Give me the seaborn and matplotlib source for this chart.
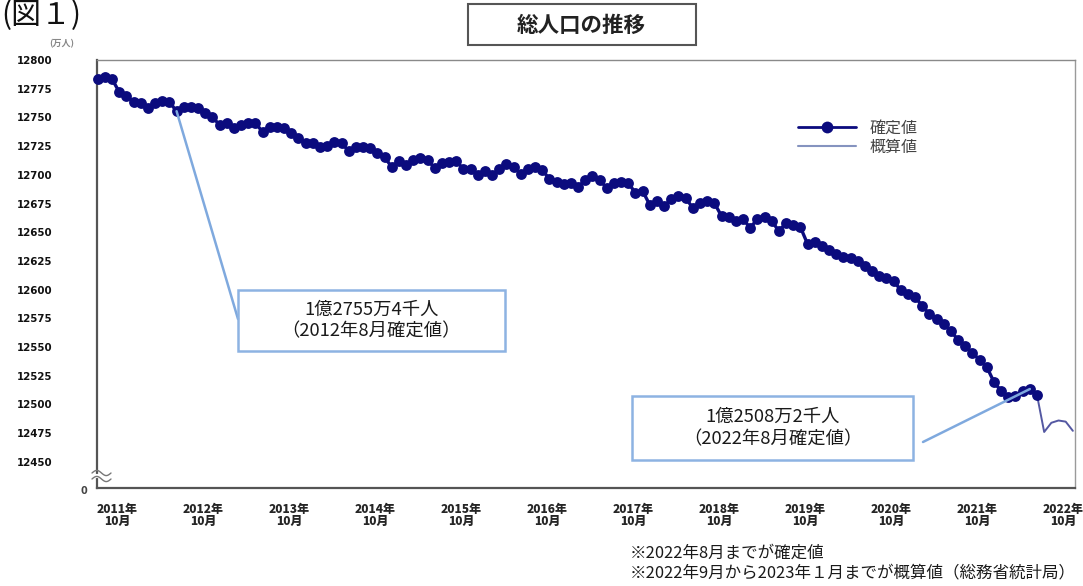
import matplotlib
matplotlib.use("Agg")
import matplotlib.pyplot as plt
from matplotlib.patches import Rectangle
from matplotlib.lines import Line2D
from matplotlib.transforms import ScaledTranslation
import numpy as np
import pandas as pd
import seaborn as sns

# Total population of Japan (unit: 10,000 persons), monthly, Sep 2011 - Aug 2022 (confirmed)
confirmed = [
    12783.4, 12785.2, 12783.4, 12772.1, 12768.6, 12763.4, 12762.5, 12758.2, 12762.5, 12764.3,
    12763.4, 12755.4, 12759.1, 12759.1, 12758.2, 12753.8, 12750.3, 12743.4, 12745.1, 12740.8,
    12743.4, 12745.1, 12745.1, 12737.3, 12741.6, 12741.6, 12740.8, 12736.4, 12732.1, 12727.7,
    12727.7, 12724.2, 12725.1, 12728.6, 12727.7, 12720.7, 12724.2, 12724.2, 12723.3, 12719.0,
    12715.5, 12706.8, 12712.0, 12708.5, 12712.9, 12714.6, 12712.9, 12705.9, 12710.3, 12711.1,
    12712.0, 12705.0, 12705.0, 12699.8, 12703.3, 12699.8, 12705.0, 12709.4, 12706.8, 12700.7,
    12705.0, 12706.8, 12704.2, 12696.3, 12693.7, 12692.0, 12692.9, 12689.4, 12695.5, 12699.0,
    12695.5, 12688.5, 12692.9, 12693.7, 12692.9, 12684.1, 12685.9, 12673.7, 12677.2, 12672.8,
    12678.9, 12681.5, 12679.8, 12671.1, 12675.4, 12677.2, 12675.4, 12664.1, 12663.2, 12659.8,
    12661.5, 12653.7, 12661.5, 12663.2, 12659.8, 12651.0, 12658.0, 12656.3, 12654.5, 12639.7,
    12641.5, 12638.0, 12634.5, 12631.0, 12628.4, 12627.5, 12624.9, 12620.6, 12616.2, 12611.8,
    12610.1, 12607.5, 12599.6, 12596.5, 12593.6, 12585.7, 12578.7, 12574.4, 12570.0, 12563.9,
    12556.1, 12550.9, 12544.8, 12538.7, 12532.6, 12519.5, 12511.7, 12506.4, 12507.3, 12511.7,
    12513.4, 12508.2,
]
# Provisional estimates, Sep 2022 - Jan 2023
provisional = [12476, 12484, 12486, 12485, 12477]

first_month = "2011-09"
tick_years = list(range(2011, 2023))
tick_month = 10
y_ticks = list(range(12450, 12801, 25))
y_limits = (12427.2, 12800)

callout_months = ["2012-08", "2022-08"]
callout_texts = ["1億2755万4千人\n（2012年8月確定値）", "1億2508万2千人\n（2022年8月確定値）"]

title = "総人口の推移"
figure_label = "(図１)"
unit_label = "(万人)"
series_names = ["確定値", "概算値"]
notes = ["※2022年8月までが確定値", "※2022年9月から2023年１月までが概算値（総務省統計局）"]

# ---------------------------------------------------------------------------
months = pd.period_range(first_month, periods=len(confirmed) + len(provisional), freq="M")
idx = np.arange(len(months))
n_conf = len(confirmed)

conf_df = pd.DataFrame({"m": idx[:n_conf], "pop": confirmed})
prov_df = pd.DataFrame({"m": idx[n_conf - 1:], "pop": [confirmed[-1]] + provisional})

sns.set_style("white")
plt.rcParams["font.family"] = ["Noto Sans CJK JP", "DejaVu Sans"]

W, H = 1083, 586
fig = plt.figure(figsize=(W / 100, H / 100), dpi=100)


def fp(x, y):
    """figure pixel (from top-left) -> figure fraction"""
    return x / W, 1 - y / H


ax_l, ax_r, ax_t, ax_b = 97, 1075, 60, 488
ax = fig.add_axes([ax_l / W, 1 - ax_b / H, (ax_r - ax_l) / W, (ax_b - ax_t) / H])

navy = "#0b0b7e"
prov_color = "#5458a2"

sns.lineplot(data=prov_df, x="m", y="pop", ax=ax, color=prov_color, linewidth=1.4,
             legend=False, clip_on=False, zorder=3)
sns.lineplot(data=conf_df, x="m", y="pop", ax=ax, color=navy, linewidth=2.4,
             marker="o", markersize=7.8, markeredgewidth=0, legend=False,
             clip_on=False, zorder=4)

ax.set_xlim(-0.1, idx[-1] + 0.3)
ax.set_ylim(*y_limits)
ax.set_xlabel("")
ax.set_ylabel("")

# y axis
ax.set_yticks(y_ticks)
ax.set_yticklabels([str(v) for v in y_ticks])
ax.tick_params(axis="y", direction="in", length=3, width=1, color="#666666",
               pad=45, labelsize=7.4, labelcolor="#111111")
for lab in ax.get_yticklabels():
    lab.set_fontfamily("DejaVu Sans")
    lab.set_fontweight("bold")
    lab.set_horizontalalignment("center")

# x axis: monthly minor ticks, year labels at October
oct_pos = [int(np.where(months == pd.Period(f"{y}-{tick_month:02d}", freq="M"))[0][0]) for y in tick_years]
ax.set_xticks(oct_pos)
ax.set_xticklabels([f"{y}年\n{tick_month}月" for y in tick_years])
ax.set_xticks(idx, minor=True)
ax.tick_params(axis="x", which="both", direction="in", length=2.5, width=0.8,
               color="#555555", pad=11, labelsize=8.6)
shift = ScaledTranslation(12 / 100, 0, fig.dpi_scale_trans)
for lab in ax.get_xticklabels():
    lab.set_fontweight("heavy")
    lab.set_linespacing(0.95)
    lab.set_transform(lab.get_transform() + shift)

for side, col, lw in [("left", "#555555", 1.6), ("bottom", "#555555", 1.6),
                      ("top", "#8a8a8a", 1.0), ("right", "#9a9a9a", 1.0)]:
    ax.spines[side].set_visible(True)
    ax.spines[side].set_color(col)
    ax.spines[side].set_linewidth(lw)

# axis break mark on the left spine
t = np.linspace(0, 1, 40)
bx0, bx1 = -5 / (ax_r - ax_l), 14 / (ax_r - ax_l)
for yb in (473, 479):
    yy = (ax_b - yb) / (ax_b - ax_t) + 0.006 * np.sin(2 * np.pi * t)
    ax.plot(bx0 + (bx1 - bx0) * t, yy, transform=ax.transAxes, color="#777777",
            lw=1.0, clip_on=False, zorder=5)
ax.plot([bx0, bx1], [(ax_b - 476) / (ax_b - ax_t)] * 2, transform=ax.transAxes,
        color="white", lw=3.0, clip_on=False, zorder=4.5)
fig.text(*fp(84, 491), "0", ha="center", va="center", fontsize=7, fontweight="bold",
         color="#444444", family="DejaVu Sans")

# legend
handles = [Line2D([], [], color=navy, lw=2.0, marker="o", ms=8.5, mew=0),
           Line2D([], [], color="#8593bf", lw=1.5)]
fig.legend(handles, series_names, loc="upper left", bbox_to_anchor=fp(798, 120),
           bbox_transform=fig.transFigure, frameon=False, fontsize=11.5,
           labelcolor="#444444", handlelength=3.6, handletextpad=0.9,
           labelspacing=0.1, borderpad=0, borderaxespad=0)

# callouts
boxes = [(238, 290, 505, 351), (632, 396, 913, 460)]
starts = [(238, 319), (923, 442)]
pointer_offset = [0, -1]
for month, text, (x0, y0, x1, y1), (sx, sy), off in zip(callout_months, callout_texts,
                                                        boxes, starts, pointer_offset):
    k = int(np.where(months == pd.Period(month, freq="M"))[0][0]) + off
    fig.patches.append(Rectangle(fp(x0, y1), (x1 - x0) / W, (y1 - y0) / H,
                                 transform=fig.transFigure, fill=False,
                                 edgecolor="#8db3e2", lw=1.8))
    fig.text(*fp((x0 + x1) / 2, (y0 + y1) / 2), text, ha="center", va="center",
             fontsize=13.2, color="#1a1a1a", linespacing=1.3)
    ax.annotate("", xy=(k, confirmed[k]), xycoords="data",
                xytext=(sx, H - sy), textcoords="figure pixels",
                arrowprops=dict(arrowstyle="-", color="#7fa9de", lw=1.8,
                                shrinkA=0, shrinkB=0), zorder=6)

# title box
fig.patches.append(Rectangle(fp(468, 45), (696 - 468) / W, (45 - 4) / H,
                             transform=fig.transFigure, fill=False,
                             edgecolor="#555555", lw=1.5))
fig.text(*fp(581, 25), title, ha="center", va="center", fontsize=15.5,
         fontweight="bold", color="#222222")

fig.text(*fp(1, 16), figure_label, ha="left", va="center", fontsize=21.5, color="#111111")
fig.text(*fp(62, 44), unit_label, ha="center", va="center", fontsize=6.5,
         fontweight="bold", color="#888888")

for k, note in enumerate(notes):
    fig.text(*fp(630, 553 + 20 * k), note, ha="left", va="center", fontsize=11.9,
             color="#1a1a1a")

fig.savefig("out.png", dpi=100)
